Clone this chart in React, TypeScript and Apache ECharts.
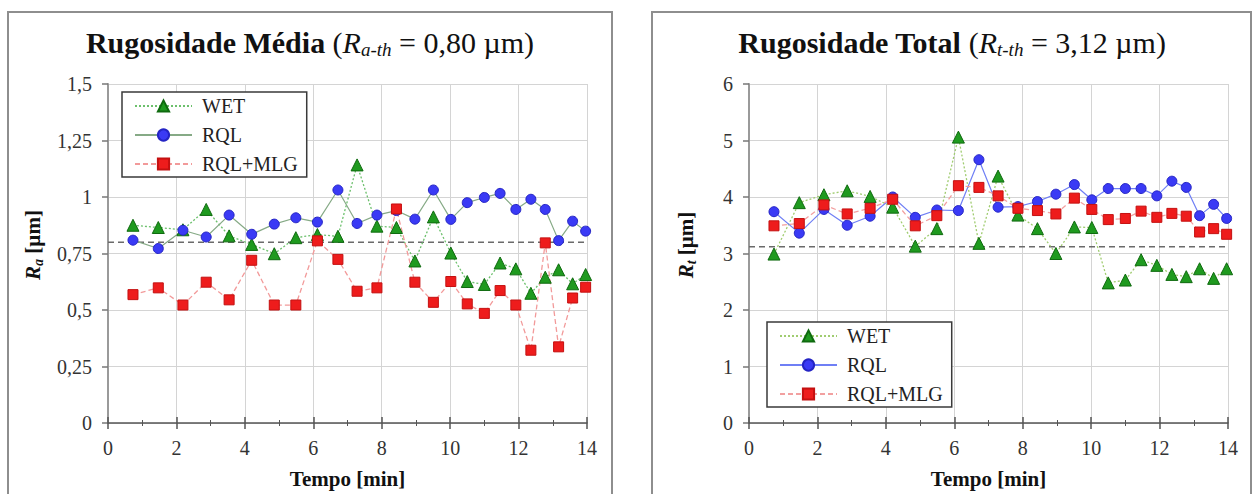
import React, { useEffect, useRef } from "react";
import * as echarts from "echarts";

const FONT = "Liberation Serif";

// Time of each measurement [min]
const TIME = [0.73, 1.47, 2.19, 2.87, 3.54, 4.2, 4.86, 5.49, 6.12, 6.72, 7.28, 7.86, 8.43, 8.97, 9.51, 10.02, 10.5, 11.0, 11.46, 11.92, 12.36, 12.78, 13.17, 13.58, 13.96];

const SERIES_NAMES = ["WET", "RQL", "RQL+MLG"];

// Rugosidade média Ra [µm]
const RA_WET = [0.875, 0.865, 0.855, 0.945, 0.828, 0.79, 0.749, 0.82, 0.834, 0.826, 1.142, 0.871, 0.865, 0.717, 0.912, 0.752, 0.626, 0.613, 0.708, 0.682, 0.574, 0.645, 0.678, 0.616, 0.657];
const RA_RQL = [0.809, 0.772, 0.853, 0.823, 0.92, 0.835, 0.88, 0.908, 0.889, 1.031, 0.883, 0.92, 0.94, 0.902, 1.031, 0.901, 0.975, 0.998, 1.016, 0.945, 0.99, 0.945, 0.807, 0.893, 0.849];
const RA_MLG = [0.568, 0.598, 0.522, 0.623, 0.545, 0.72, 0.522, 0.522, 0.806, 0.724, 0.583, 0.598, 0.947, 0.623, 0.534, 0.626, 0.527, 0.485, 0.586, 0.522, 0.322, 0.797, 0.337, 0.553, 0.601];

// Rugosidade total Rt [µm]
const RT_WET = [2.99, 3.9, 4.04, 4.11, 4.01, 3.82, 3.13, 3.44, 5.06, 3.18, 4.37, 3.68, 3.44, 3.0, 3.47, 3.46, 2.48, 2.53, 2.89, 2.79, 2.63, 2.59, 2.73, 2.56, 2.73];
const RT_RQL = [3.74, 3.36, 3.78, 3.5, 3.66, 4.0, 3.64, 3.77, 3.76, 4.66, 3.82, 3.83, 3.92, 4.05, 4.22, 3.95, 4.15, 4.15, 4.15, 4.02, 4.28, 4.17, 3.67, 3.87, 3.62];
const RT_MLG = [3.49, 3.53, 3.86, 3.7, 3.8, 3.96, 3.49, 3.67, 4.2, 4.17, 4.02, 3.8, 3.76, 3.7, 3.98, 3.78, 3.6, 3.62, 3.75, 3.64, 3.71, 3.66, 3.38, 3.44, 3.34];

// Thresholds
const RA_TH = 0.8;
const RT_TH = 3.12;
const RA_TH_LABEL = "0,80";
const RT_TH_LABEL = "3,12";

// Axes
const X_MIN = 0;
const X_MAX = 14;
const X_STEP = 2;
const RA_MAX = 1.5;
const RA_STEP = 0.25;
const RT_MAX = 6;
const RT_STEP = 1;

type Cfg = {
  title: string;
  sub: string;
  thLabel: string;
  ySub: string;
  yMax: number;
  yStep: number;
  th: number;
  wet: number[];
  rql: number[];
  mlg: number[];
  boxX: number;
  boxW: number;
  titleX: number;
  yNameX: number;
  gridLeft: number;
  legendLeft: number;
  legendTop: number;
  wetLine: string;
  rqlLine: string;
  mlgLine: string;
};

function buildOption(c: Cfg) {
  const pts = (vals: number[]) => TIME.map((t, i) => [t, vals[i]]);
  const fmt = (v: number) => String(v).replace(".", ",");
  const axisDark = "#555";
  const gridColor = "#d4d4d4";
  const mk = (
    name: string,
    vals: number[],
    symbol: string,
    size: number,
    fill: string,
    stroke: string,
    lineColor: string,
    lineType: any,
    lineWidth: number
  ) => ({
    name,
    type: "line",
    xAxisIndex: 0,
    yAxisIndex: 0,
    data: pts(vals),
    symbol,
    symbolSize: size,
    showSymbol: true,
    itemStyle: { color: fill, borderColor: stroke, borderWidth: 1 },
    lineStyle: { color: lineColor, type: lineType, width: lineWidth },
    emphasis: { disabled: true },
    z: 3,
  });

  return {
    animation: false,
    backgroundColor: "#ffffff",
    textStyle: { fontFamily: FONT },
    title: {
      text: `{b|${c.title}}{n| (}{i|R}{s|${c.sub}}{n| = ${c.thLabel} µm)}`,
      left: c.titleX,
      top: 25,
      textAlign: "center",
      padding: 0,
      textStyle: {
        fontFamily: FONT,
        fontSize: 30,
        color: "#111",
        rich: {
          b: { fontFamily: FONT, fontSize: 30, fontWeight: "bold", lineHeight: 34, color: "#111" },
          n: { fontFamily: FONT, fontSize: 30, fontWeight: "normal", lineHeight: 34, color: "#111" },
          i: { fontFamily: FONT, fontSize: 30, fontStyle: "italic", fontWeight: "normal", lineHeight: 34, color: "#111" },
          s: { fontFamily: FONT, fontSize: 19, fontStyle: "italic", fontWeight: "normal", lineHeight: 22, verticalAlign: "bottom", color: "#111" },
        },
      },
    },
    graphic: [
      {
        type: "rect",
        silent: true,
        z: -1,
        shape: { x: c.boxX, y: 12, width: c.boxW, height: 520 },
        style: { fill: "none", stroke: "#8e8e8e", lineWidth: 2 },
      },
      {
        type: "text",
        x: c.yNameX,
        y: 245,
        rotation: Math.PI / 2,
        style: {
          text: `{i|R}{s|${c.ySub}}{n| [µm]}`,
          align: "center",
          verticalAlign: "middle",
          fill: "#111",
          rich: {
            i: { fontFamily: FONT, fontSize: 21, fontWeight: "bold", fontStyle: "italic", lineHeight: 24, fill: "#111" },
            s: { fontFamily: FONT, fontSize: 14, fontWeight: "bold", fontStyle: "italic", lineHeight: 12, verticalAlign: "bottom", fill: "#111" },
            n: { fontFamily: FONT, fontSize: 21, fontWeight: "bold", lineHeight: 24, fill: "#111" },
          },
        },
      },
    ],
    grid: { left: c.gridLeft, top: 84, width: 479, height: 339 },
    legend: {
      orient: "vertical",
      left: c.legendLeft,
      top: c.legendTop,
      data: SERIES_NAMES,
      itemWidth: 57,
      itemHeight: 14,
      itemGap: 9,
      padding: [4, 9, 3, 12],
      borderColor: "#3a3a3a",
      borderWidth: 1.5,
      borderRadius: 0,
      backgroundColor: "#ffffff",
      selectedMode: false,
      textStyle: { fontFamily: FONT, fontSize: 20, lineHeight: 20, color: "#222", padding: [0, 0, 0, 5] },
    },
    xAxis: [
      {
        type: "value",
        gridIndex: 0,
        min: X_MIN,
        max: X_MAX,
        interval: X_STEP,
        position: "bottom",
        axisLine: { show: true, onZero: false, lineStyle: { color: axisDark, width: 1.5 } },
        axisTick: { show: true, length: 6, lineStyle: { color: axisDark, width: 1.5 } },
        minorTick: { show: true, splitNumber: 2, length: 3, lineStyle: { color: axisDark, width: 1 } },
        axisLabel: { margin: 15, fontSize: 20, fontFamily: FONT, color: "#333" },
        splitLine: { show: true, lineStyle: { color: gridColor, width: 1 } },
        name: "Tempo [min]",
        nameLocation: "middle",
        nameGap: 45,
        nameTextStyle: { fontFamily: FONT, fontSize: 21, fontWeight: "bold", color: "#111" },
      },
      {
        type: "value",
        gridIndex: 0,
        min: X_MIN,
        max: X_MAX,
        interval: X_STEP,
        position: "bottom",
        axisLine: { show: false, onZero: false },
        axisTick: { show: true, inside: true, length: 6, lineStyle: { color: axisDark, width: 1.5 } },
        minorTick: { show: true, splitNumber: 2, length: 3, lineStyle: { color: axisDark, width: 1 } },
        axisLabel: { show: false },
        splitLine: { show: false },
      },
    ],
    yAxis: {
      type: "value",
      gridIndex: 0,
      min: 0,
      max: c.yMax,
      interval: c.yStep,
      axisLine: { show: true, onZero: false, lineStyle: { color: "#9a9a9a", width: 2 } },
      axisTick: { show: true, length: 6, lineStyle: { color: "#777", width: 1.5 } },
      axisLabel: { margin: 16, fontSize: 20, fontFamily: FONT, color: "#333", formatter: fmt },
      splitLine: { show: true, lineStyle: { color: gridColor, width: 1 } },
    },
    series: [
      {
        name: "threshold",
        type: "line",
        data: [
          [X_MIN, c.th],
          [X_MAX, c.th],
        ],
        symbol: "none",
        silent: true,
        lineStyle: { color: "#6a6a6a", type: [6, 4], width: 1.5 },
        emphasis: { disabled: true },
        z: 2,
      },
      mk(SERIES_NAMES[0], c.wet, "triangle", 12, "#1f9a1f", "#0f6a0f", c.wetLine, [2, 2], 1.3),
      mk(SERIES_NAMES[1], c.rql, "circle", 10, "#3a3af5", "#2424c4", c.rqlLine, "solid", 1.2),
      mk(SERIES_NAMES[2], c.mlg, "rect", 10, "#ee1c1c", "#c41010", c.mlgLine, [5, 3], 1.3),
    ],
  };
}

const LEFT: Cfg = {
  title: "Rugosidade Média",
  sub: "a-th",
  thLabel: RA_TH_LABEL,
  ySub: "a",
  yMax: RA_MAX,
  yStep: RA_STEP,
  th: RA_TH,
  wet: RA_WET,
  rql: RA_RQL,
  mlg: RA_MLG,
  boxX: 8,
  boxW: 604,
  titleX: 310,
  yNameX: 33,
  gridLeft: 108,
  legendLeft: 122,
  legendTop: 92,
  wetLine: "#6cc06c",
  rqlLine: "#86aa86",
  mlgLine: "#f29a9a",
};

const RIGHT: Cfg = {
  title: "Rugosidade Total",
  sub: "t-th",
  thLabel: RT_TH_LABEL,
  ySub: "t",
  yMax: RT_MAX,
  yStep: RT_STEP,
  th: RT_TH,
  wet: RT_WET,
  rql: RT_RQL,
  mlg: RT_MLG,
  boxX: 25,
  boxW: 599,
  titleX: 325,
  yNameX: 59,
  gridLeft: 122,
  legendLeft: 140,
  legendTop: 322,
  wetLine: "#a0cc70",
  rqlLine: "#6f7ff5",
  mlgLine: "#f2a0a0",
};

function Chart({ cfg, left }: { cfg: Cfg; left: number }) {
  const ref = useRef<HTMLDivElement>(null);
  useEffect(() => {
    if (!ref.current) return;
    const chart = echarts.init(ref.current, undefined, { renderer: "svg" });
    chart.setOption(buildOption(cfg) as any);
    return () => chart.dispose();
  }, [cfg]);
  return <div ref={ref} style={{ position: "absolute", left, top: 0, width: 627, height: 494 }} />;
}

export default function App() {
  return (
    <div style={{ position: "absolute", left: 0, top: 0, width: 1254, height: 494, background: "#fff", overflow: "hidden" }}>
      <Chart cfg={LEFT} left={0} />
      <Chart cfg={RIGHT} left={627} />
    </div>
  );
}
